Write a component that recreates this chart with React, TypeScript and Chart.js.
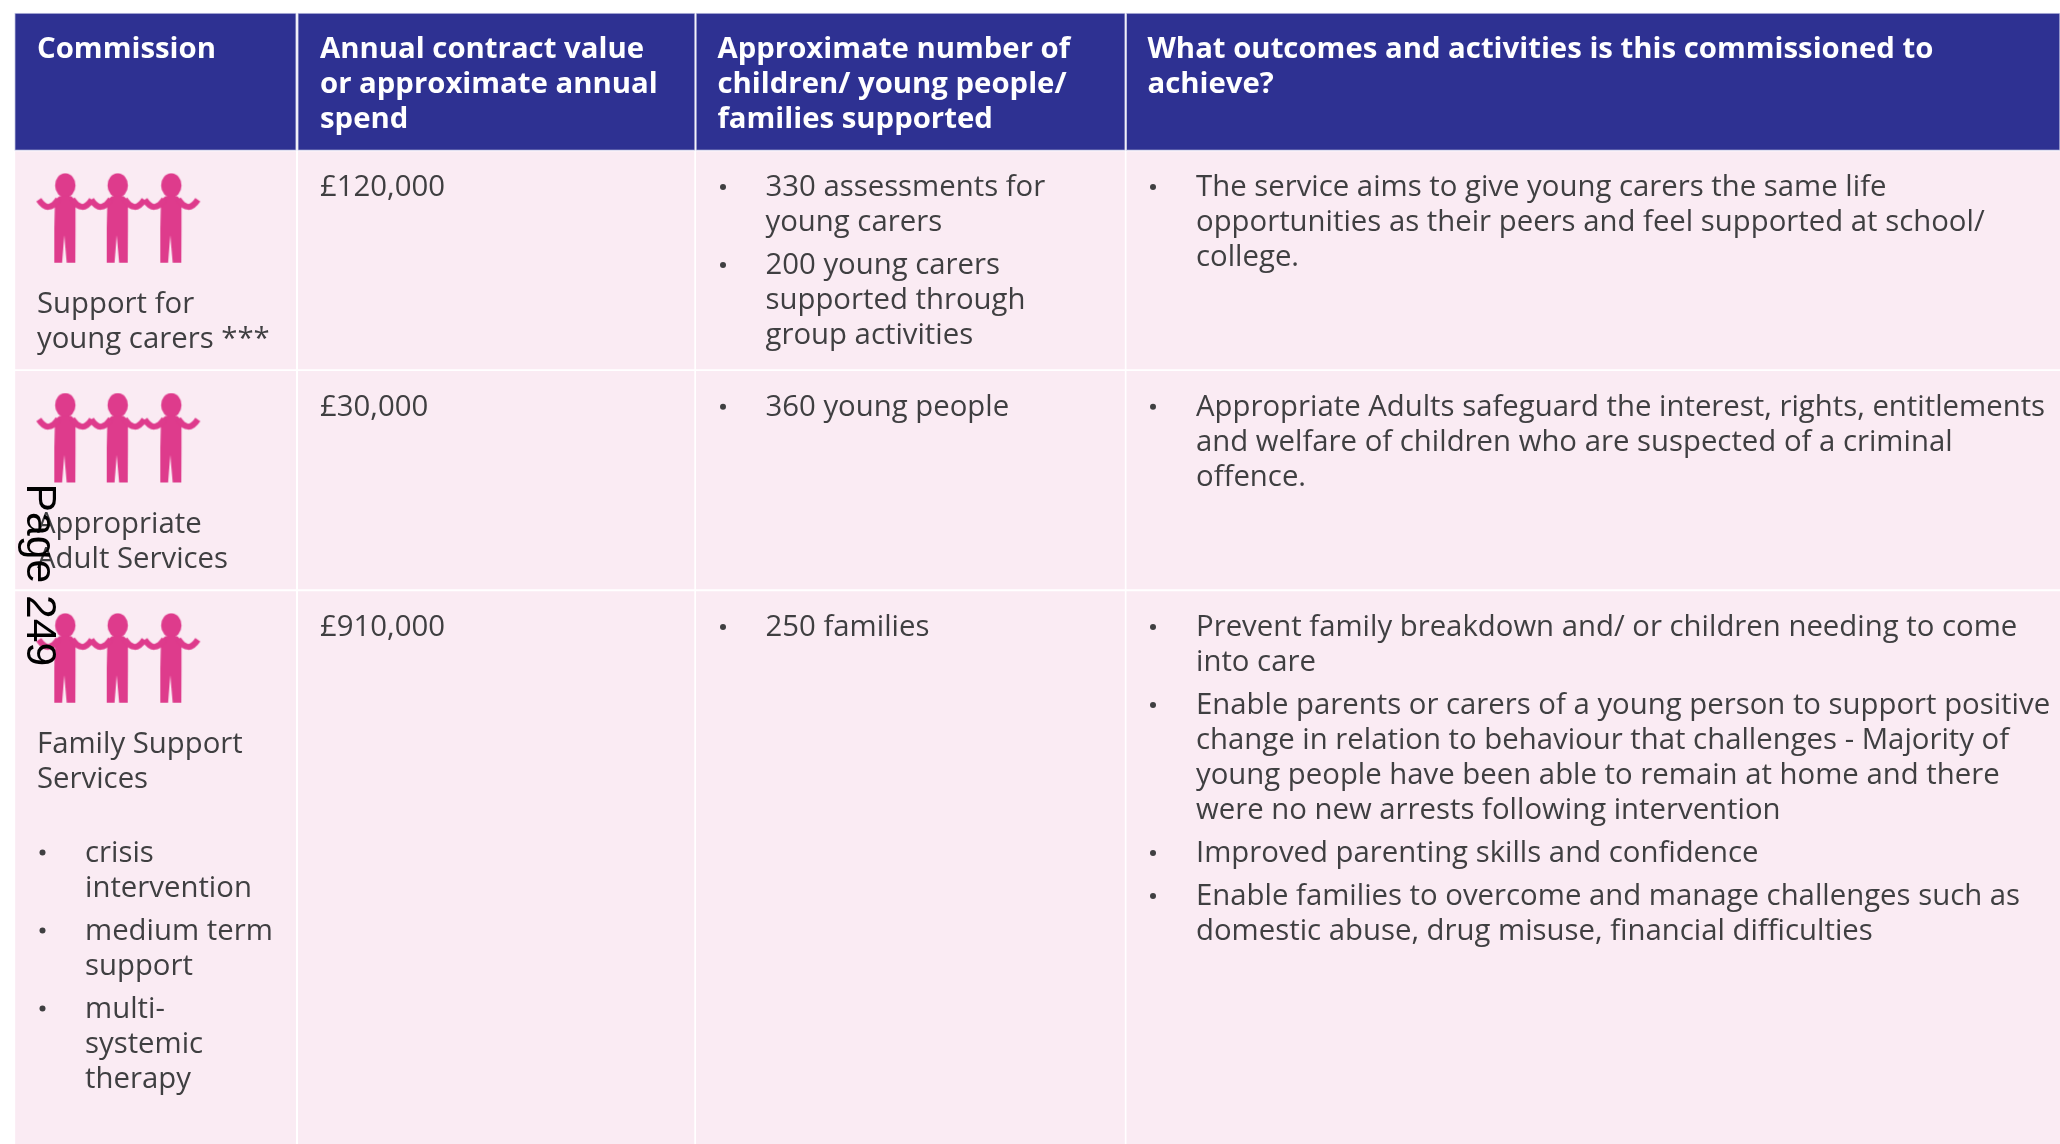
import React, { useEffect, useRef } from "react";
import { Chart, registerables } from "chart.js";

Chart.register(...registerables);

const headers = [
  ["Commission"],
  ["Annual contract value", "or approximate annual", "spend"],
  ["Approximate number of", "children/ young people/", "families supported"],
  ["What outcomes and activities is this commissioned to", "achieve?"],
];
const commissionNames = [
  ["Support for", "young carers ***"],
  ["Appropriate", "Adult Services"],
  ["Family Support", "Services"],
];
const familySupportTypes = [
  ["crisis", "intervention"],
  ["medium term", "support"],
  ["multi-", "systemic", "therapy"],
];
const annualValues = ["£120,000", "£30,000", "£910,000"];
const peopleSupported = [
  [["330 assessments for", "young carers"], ["200 young carers", "supported through", "group activities"]],
  [["360 young people"]],
  [["250 families"]],
];
const outcomes = [
  [["The service aims to give young carers the same life", "opportunities as their peers and feel supported at school/", "college."]],
  [["Appropriate Adults safeguard the interest, rights, entitlements", "and welfare of children who are suspected of a criminal", "offence."]],
  [
    ["Prevent family breakdown and/ or children needing to come", "into care"],
    ["Enable parents or carers of a young person to support positive", "change in relation to behaviour that challenges - Majority of", "young people have been able to remain at home and there", "were no new arrests following intervention"],
    ["Improved parenting skills and confidence"],
    ["Enable families to overcome and manage challenges such as", "domestic abuse, drug misuse, financial difficulties"],
  ],
];
const pageLabel = "Page 249";

const headerColumnEdges = [[14.7, 296.2], [297.8, 695], [696, 1125.2], [1126.3, 2060]];
const columnEdges = [[15.5, 295.7], [298.3, 694], [696.3, 1124.5], [1126.8, 2060]];
const rowEdges = [[13, 150.5], [151.5, 369], [371.3, 589], [591.5, 1144]];
const textX = [37, 320, 717.5, 1147.5];
const bulletTextX = [85, 0, 765.5, 1196];
const figureX = [65.3, 117.7, 171.3];
const LINE = 35;
const PARA = 8;
const FONT = '29.33px "Open Sans"';
const BOLD = 'bold 29.33px "Open Sans"';
const INK = "#3f3f41";
const NAVY = "#2e3192";
const LAVENDER = "#c6c7e4";
const PINK = "#faebf3";
const MAGENTA = "#de3b8c";

function makeFigure() {
  const c = document.createElement("canvas");
  c.width = 64;
  c.height = 91;
  const g = c.getContext("2d")!;
  g.translate(32, 0.5);
  g.fillStyle = MAGENTA;
  g.strokeStyle = MAGENTA;
  g.beginPath();
  g.ellipse(0, 12.2, 10.2, 12.2, 0, 0, Math.PI * 2);
  g.fill();
  g.beginPath();
  g.moveTo(-6, 23);
  g.quadraticCurveTo(-10.5, 26, -10.5, 34);
  g.lineTo(-11, 55);
  g.lineTo(-11, 89.5);
  g.lineTo(-3.2, 89.5);
  g.lineTo(-1, 62);
  g.lineTo(1.4, 89.5);
  g.lineTo(10, 89.5);
  g.lineTo(10.2, 55);
  g.lineTo(10.2, 34);
  g.quadraticCurveTo(10.2, 26, 6, 23);
  g.closePath();
  g.fill();
  g.lineWidth = 6;
  g.lineCap = "butt";
  for (const s of [-1, 1]) {
    g.beginPath();
    g.moveTo(s * 7, 26);
    g.quadraticCurveTo(s * 17, 41, s * 26.5, 26.5);
    g.stroke();
  }
  return c;
}

const tableTextPlugin = {
  id: "tableText",
  afterDatasetsDraw(chart: any) {
    const { ctx, scales } = chart;
    const px = (v: number) => scales.x.getPixelForValue(v);
    const py = (v: number) => scales.y.getPixelForValue(v);
    ctx.save();
    ctx.textBaseline = "alphabetic";
    ctx.textAlign = "left";

    ctx.font = BOLD;
    ctx.fillStyle = "#ffffff";
    headers.forEach((lines, c) => lines.forEach((t, i) => ctx.fillText(t, px(textX[c]), py(58.3 + i * LINE))));

    ctx.font = FONT;
    ctx.fillStyle = INK;
    const bullet = (col: number, base: number) => {
      ctx.beginPath();
      ctx.arc(px(textX[col] + 5.5), py(base - 9), 3, 0, Math.PI * 2);
      ctx.fill();
    };
    const paragraphs = (paras: string[][], col: number, start: number) => {
      let y = start;
      paras.forEach((lines) => {
        bullet(col, y);
        lines.forEach((t, i) => ctx.fillText(t, px(bulletTextX[col]), py(y + i * LINE)));
        y += lines.length * LINE + PARA;
      });
      return y;
    };
    for (let r = 0; r < 3; r++) {
      const top = rowEdges[r + 1][0];
      const first = top + 44.5;
      commissionNames[r].forEach((t, i) => ctx.fillText(t, px(textX[0]), py(top + 161.4 + i * LINE)));
      ctx.fillText(annualValues[r], px(textX[1]), py(first));
      paragraphs(peopleSupported[r], 2, first);
      paragraphs(outcomes[r], 3, first);
    }
    paragraphs(familySupportTypes, 0, 861.5);

    ctx.translate(px(27), py(483.5));
    ctx.rotate(Math.PI / 2);
    ctx.font = '42.7px "Liberation Sans"';
    ctx.fillStyle = "#000000";
    ctx.fillText(pageLabel, 0, 0);
    ctx.restore();
  },
};

export default function App() {
  const ref = useRef<HTMLCanvasElement>(null);
  useEffect(() => {
    const figure = makeFigure();
    const cellData = (r: number) =>
      (r === 0 ? headerColumnEdges : columnEdges).map((e) => ({ x: e, y: (rowEdges[r][0] + rowEdges[r][1]) / 2 }));
    const figurePoints = rowEdges
      .slice(1)
      .flatMap((row) => figureX.map((x) => ({ x, y: row[0] + 21.2 + 45.5 })));
    let chart: Chart | null = null;
    chart = new Chart(ref.current!, {
      type: "bar",
      data: {
        datasets: [
          ...rowEdges.map((row, r) => ({
            type: "bar" as const,
            label: r === 0 ? "Header" : "Row " + r,
            data: cellData(r) as any,
            backgroundColor: r === 0 ? NAVY : PINK,
            borderColor: LAVENDER,
            borderWidth: r === 0 ? 1 : 0,
            borderSkipped: false,
            barThickness: row[1] - row[0],
            grouped: false,
            order: 2,
          })),
          {
            type: "scatter" as const,
            label: "Figures",
            data: figurePoints as any,
            pointStyle: figure as any,
            order: 1,
          },
        ],
      },
      options: {
        indexAxis: "y",
        animation: false,
        responsive: false,
        devicePixelRatio: 1,
        layout: { padding: 0, autoPadding: false },
        plugins: { legend: { display: false }, tooltip: { enabled: false } },
        scales: {
          x: { type: "linear", min: 0, max: 2060, offset: false, display: false },
          y: { type: "linear", min: 0, max: 1144, offset: false, reverse: true, display: false },
        },
      } as any,
      plugins: [tableTextPlugin],
    });
    let alive = true;
    (document as any).fonts?.load?.(BOLD).then(() => alive && chart?.update());
    return () => {
      alive = false;
      chart?.destroy();
    };
  }, []);
  return (
    <div style={{ position: "absolute", left: 0, top: 0, width: 2060, height: 1144, background: "#fff" }}>
      <canvas ref={ref} width={2060} height={1144} style={{ display: "block" }} />
    </div>
  );
}
